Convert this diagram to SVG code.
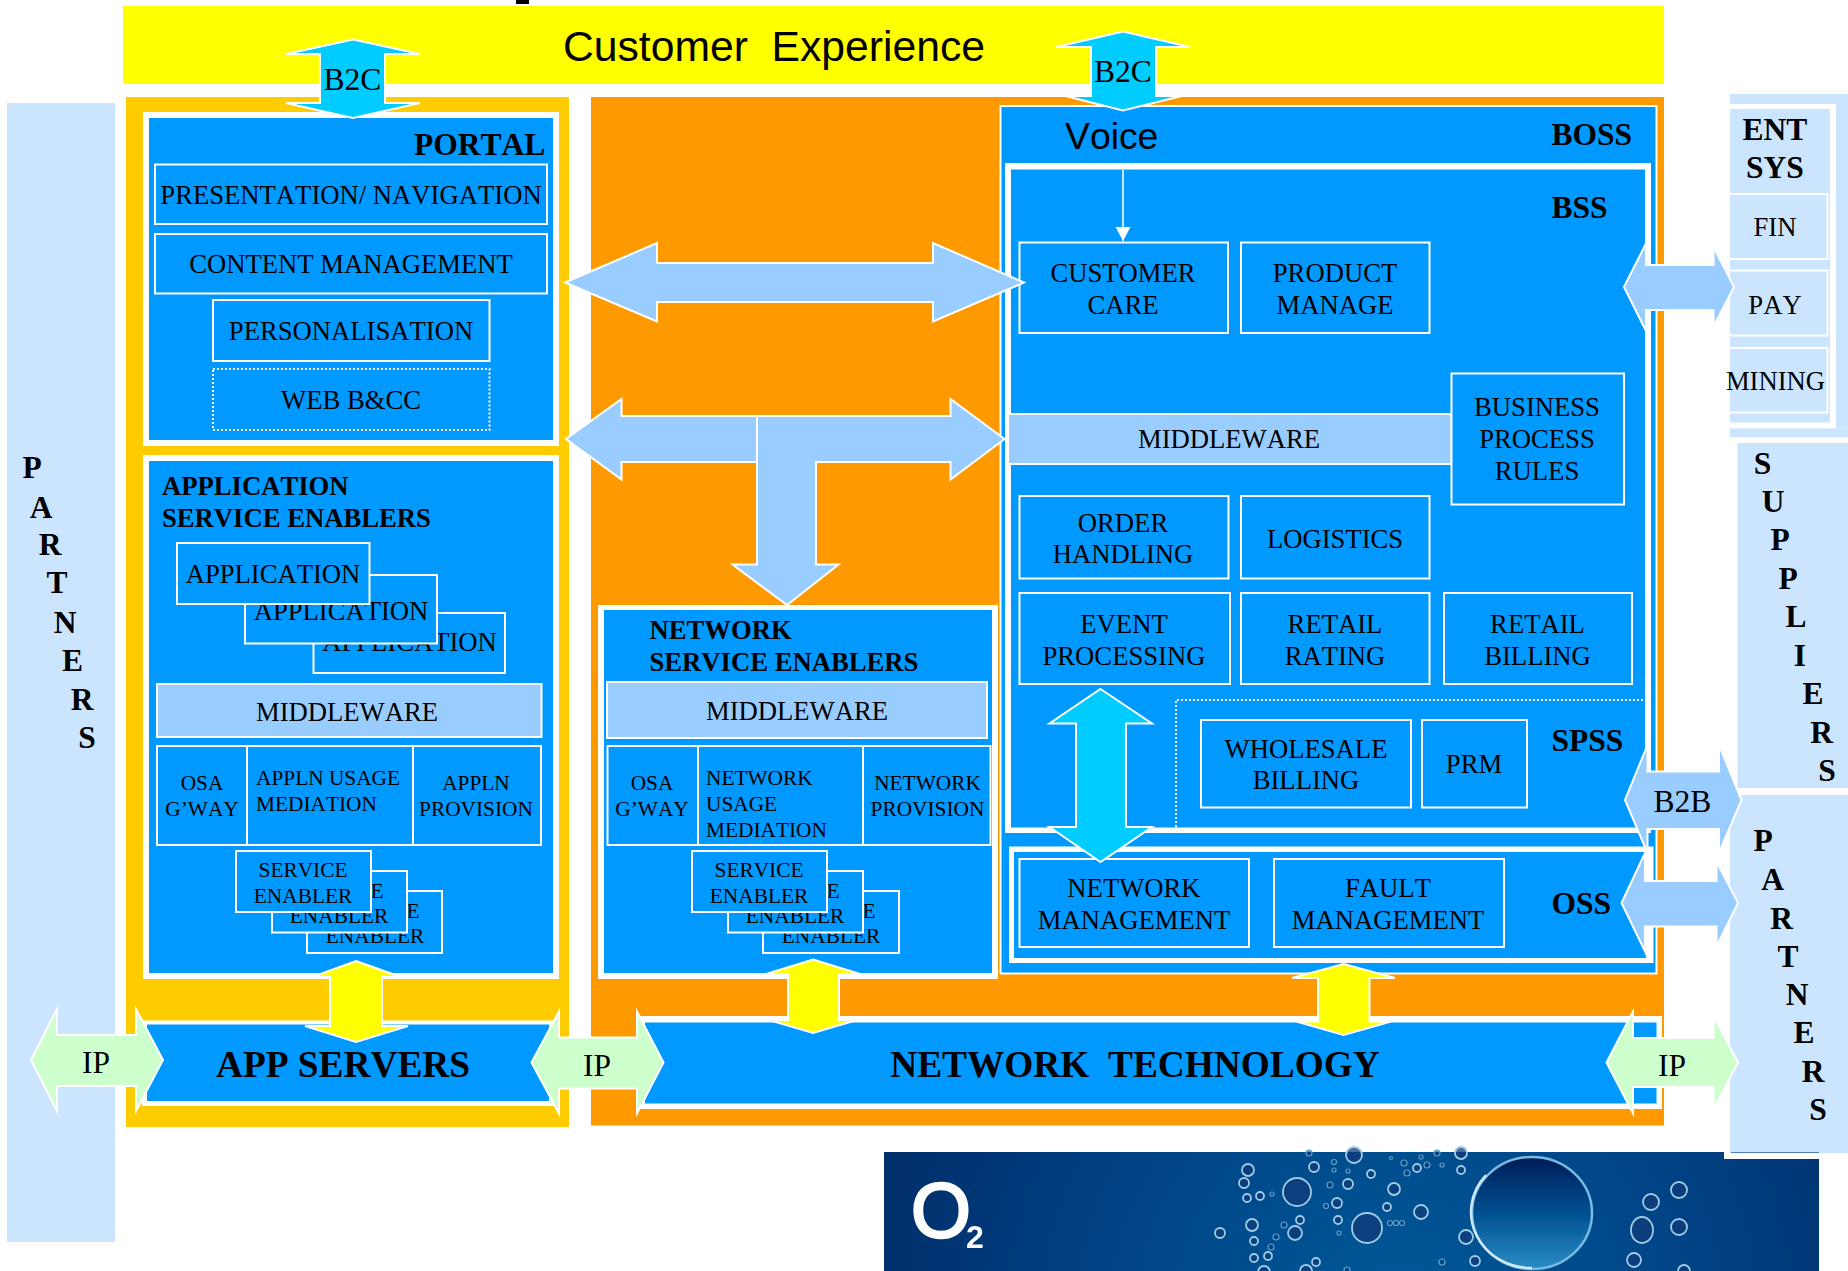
<svg xmlns="http://www.w3.org/2000/svg" width="1848" height="1271" viewBox="0 0 1848 1271">
<style>
text{font-family:"Liberation Serif","Times New Roman",serif;fill:#000;white-space:pre;font-kerning:none}
.m{font-size:26.67px;text-anchor:middle}
.l{font-size:26.67px}
.s{font-size:21.33px;text-anchor:middle}
.sl{font-size:21.33px}
.b{font-size:26.67px;font-weight:bold}
.h{font-size:31.5px;font-weight:bold}
.c{font-size:31.5px;font-weight:bold;text-anchor:middle}
.x{font-size:37.33px;font-weight:bold;text-anchor:middle}
.a{font-size:31.5px;text-anchor:middle}
.san{font-family:"Liberation Sans",Arial,sans-serif}
.box{fill:#0099FF;stroke:#fff;stroke-width:2}
.w{fill:#fff}
.blue{fill:#0099FF}
.mw{fill:#99CCFF;stroke:#fff;stroke-width:2}
.pale{fill:#CCE5FF}
.palebox{fill:#CCE5FF;stroke:#fff;stroke-width:2}
.arB,.arC,.arY,.arG{stroke:#fff;stroke-width:2}
.arB,.arG{stroke-miterlimit:20}
.arB{fill:#99CCFF}
.arC{fill:#00CCFF}
.arY{fill:#FFFF00}
.arG{fill:#CCFFCC}
.bub{fill:#0b3a78;fill-opacity:.75;stroke:#9fcbe4;stroke-width:1.800}
.dot{fill:#0b3a78;fill-opacity:.5;stroke:#5f9fc8;stroke-width:1.200}
</style>
<defs>
<radialGradient id="o2bg" gradientUnits="userSpaceOnUse" cx="1400" cy="1320" r="520"><stop offset="0" stop-color="#005A9A"/><stop offset=".55" stop-color="#004486"/><stop offset="1" stop-color="#002F6C"/></radialGradient>
<linearGradient id="big" x1="0" y1="0" x2="0" y2="1"><stop offset="0" stop-color="#001C58"/><stop offset=".5" stop-color="#005092"/><stop offset="1" stop-color="#2A8CC4"/></linearGradient>
<filter id="soft" x="-5%" y="-5%" width="110%" height="110%"><feGaussianBlur stdDeviation=".6"/></filter>
<marker id="tip" markerUnits="userSpaceOnUse" markerWidth="15" markerHeight="16" refX="14" refY="7.500" orient="auto"><path d="M0 0L14 7.500L0 15Z" fill="#fff"/></marker>
</defs>

<g id="o2-banner">
<rect x="884" y="1152" width="935" height="119" fill="url(#o2bg)"/>
<g filter="url(#soft)">
<text x="911" y="1237" class="san" style="font-size:77px;fill:#fff;stroke:#fff;stroke-width:2.500">O</text>
<text x="966" y="1248" class="san" style="font-size:32px;font-weight:bold;fill:#fff">2</text>
<ellipse cx="1532" cy="1213" rx="60" ry="56" fill="url(#big)" stroke="#79BBE0" stroke-width="2.500"/>
<path d="M1486 1175A60 56 0 0 0 1532 1268" fill="none" stroke="#CFE8F5" stroke-width="2.500"/>
<ellipse cx="1297" cy="1192" rx="14" ry="14" class="bub"/><ellipse cx="1367" cy="1228" rx="15" ry="15" class="bub"/><circle cx="1354" cy="1155" r="8" class="bub"/>
<circle cx="1248" cy="1170" r="6" class="bub"/><circle cx="1244" cy="1183" r="5" class="bub"/><circle cx="1247" cy="1198" r="4" class="bub"/><circle cx="1260" cy="1196" r="4" class="bub"/>
<circle cx="1272" cy="1194" r="2" class="dot"/><circle cx="1314" cy="1167" r="5" class="bub"/><circle cx="1334" cy="1162" r="2.500" class="dot"/><circle cx="1334" cy="1170" r="2" class="dot"/>
<circle cx="1348" cy="1171" r="2" class="dot"/><circle cx="1348" cy="1184" r="5" class="bub"/><circle cx="1330" cy="1185" r="3" class="dot"/><circle cx="1337" cy="1203" r="5" class="bub"/>
<circle cx="1326" cy="1206" r="2.500" class="dot"/><circle cx="1338" cy="1220" r="4" class="bub"/><circle cx="1339" cy="1233" r="2" class="dot"/><circle cx="1309" cy="1153" r="3" class="dot"/>
<circle cx="1252" cy="1225" r="6" class="bub"/><circle cx="1295" cy="1233" r="7" class="bub"/><circle cx="1300" cy="1220" r="4" class="bub"/><circle cx="1284" cy="1225" r="3" class="dot"/>
<circle cx="1276" cy="1237" r="3" class="dot"/><circle cx="1254" cy="1241" r="4" class="bub"/><circle cx="1271" cy="1247" r="3" class="dot"/><circle cx="1268" cy="1256" r="4" class="bub"/>
<circle cx="1254" cy="1258" r="4" class="bub"/><circle cx="1220" cy="1233" r="5" class="bub"/><circle cx="1316" cy="1262" r="4" class="bub"/><circle cx="1306" cy="1271" r="6" class="bub"/>
<circle cx="1264" cy="1272" r="6" class="bub"/><circle cx="1347" cy="1270" r="3" class="dot"/>
<circle cx="1371" cy="1174" r="4" class="bub"/><circle cx="1394" cy="1189" r="6" class="bub"/><circle cx="1387" cy="1207" r="4" class="bub"/><circle cx="1421" cy="1212" r="7" class="bub"/>
<circle cx="1390" cy="1223" r="2.500" class="dot"/><circle cx="1396" cy="1223" r="2.500" class="dot"/><circle cx="1402" cy="1223" r="2.500" class="dot"/>
<circle cx="1407" cy="1173" r="3" class="dot"/><circle cx="1404" cy="1163" r="3" class="dot"/><circle cx="1417" cy="1168" r="4" class="bub"/><circle cx="1427" cy="1165" r="3" class="dot"/>
<circle cx="1442" cy="1165" r="2" class="dot"/><circle cx="1461" cy="1170" r="4" class="bub"/><circle cx="1461" cy="1153" r="6" class="bub"/><circle cx="1437" cy="1153" r="3" class="dot"/>
<circle cx="1421" cy="1157" r="2" class="dot"/><circle cx="1391" cy="1158" r="1.500" class="dot"/><circle cx="1466" cy="1237" r="7" class="bub"/><circle cx="1442" cy="1262" r="3" class="dot"/>
<circle cx="1475" cy="1261" r="5" class="bub"/><circle cx="1651" cy="1202" r="8" class="bub"/><circle cx="1679" cy="1190" r="8" class="bub"/><circle cx="1679" cy="1227" r="8" class="bub"/>
<ellipse cx="1642" cy="1230" rx="11" ry="13" class="bub"/><circle cx="1634" cy="1260" r="7" class="bub"/><circle cx="1684" cy="1271" r="6" class="bub"/>
</g>
</g>

<g id="customer-experience">
<rect x="123" y="6" width="1541" height="78" fill="#FFFF00"/>
<text x="563" y="61" class="san" style="font-size:42.67px">Customer  Experience</text>
</g>
<rect x="516" y="0" width="13" height="4" fill="#000"/>

<g id="partners-left">
<rect x="7" y="103" width="108" height="1139" class="pale"/>
<text x="32" y="478" class="c">P</text><text x="41" y="518" class="c">A</text><text x="50" y="555" class="c">R</text><text x="57" y="593" class="c">T</text><text x="65" y="633" class="c">N</text><text x="72.500" y="671" class="c">E</text><text x="82" y="710" class="c">R</text><text x="87" y="748" class="c">S</text>
</g>

<rect x="126" y="97" width="443" height="1030" fill="#FFCC00"/>
<rect x="591" y="97" width="1073" height="1028.500" fill="#FF9900"/>

<g id="portal">
<rect x="143" y="112" width="416" height="334" class="w"/>
<rect x="149" y="118" width="404" height="322" class="blue"/>
<text x="414" y="155" class="h">PORTAL</text>
<rect x="155" y="164.500" width="392" height="59.500" class="box"/><text x="351" y="204" class="m">PRESENTATION/ NAVIGATION</text>
<rect x="155" y="234" width="392" height="59.500" class="box"/><text x="351" y="273" class="m">CONTENT MANAGEMENT</text>
<rect x="213" y="300" width="276.500" height="61" class="box"/><text x="351" y="340" class="m">PERSONALISATION</text>
<rect x="213" y="369" width="276.500" height="61" class="box" stroke-dasharray="2 2"/><text x="351" y="409" class="m">WEB B&amp;CC</text>
</g>

<g id="application-service-enablers">
<rect x="143" y="455" width="416" height="524" class="w"/>
<rect x="149" y="461" width="404" height="512" class="blue"/>
<text x="162" y="495" class="b">APPLICATION</text><text x="162" y="526.500" class="b">SERVICE ENABLERS</text>
<rect x="313.500" y="613" width="191.500" height="60" class="box"/><text x="409.500" y="651" class="m">APPLICATION</text>
<rect x="245" y="575" width="192" height="68.500" class="box"/><text x="341" y="620" class="m">APPLICATION</text>
<rect x="177" y="543" width="192.500" height="61" class="box"/><text x="273" y="583" class="m">APPLICATION</text>
<rect x="157" y="684" width="384.500" height="53" class="mw"/><text x="347" y="721" class="m">MIDDLEWARE</text>
<rect x="157" y="746" width="90" height="99" class="box"/><text x="202" y="790" class="s">OSA</text><text x="202" y="816" class="s">G’WAY</text>
<rect x="247" y="746" width="166" height="99" class="box"/><text x="256" y="785" class="sl">APPLN USAGE</text><text x="256" y="811" class="sl">MEDIATION</text>
<rect x="413" y="746" width="128" height="99" class="box"/><text x="476" y="790" class="s">APPLN</text><text x="476" y="816" class="s">PROVISION</text>
<rect x="307" y="891" width="135" height="62" class="box"/><text x="375" y="918" class="s">SERVICE</text><text x="375" y="943" class="s">ENABLER</text>
<rect x="272" y="871" width="135" height="61.500" class="box"/><text x="339" y="898" class="s">SERVICE</text><text x="339" y="923" class="s">ENABLER</text>
<rect x="236" y="851" width="135" height="61" class="box"/><text x="303" y="877" class="s">SERVICE</text><text x="303" y="903" class="s">ENABLER</text>
</g>

<g id="network-service-enablers">
<rect x="598" y="605" width="400" height="374" class="w"/>
<rect x="604" y="610" width="388" height="363" class="blue"/>
<text x="649.500" y="638.500" class="b">NETWORK</text><text x="649.500" y="671" class="b">SERVICE ENABLERS</text>
<rect x="607" y="682" width="380" height="56" class="mw"/><text x="797" y="720" class="m">MIDDLEWARE</text>
<rect x="607.500" y="746" width="90.500" height="99" class="box"/><text x="652" y="790" class="s">OSA</text><text x="652" y="816" class="s">G’WAY</text>
<rect x="698" y="746" width="165" height="99" class="box"/><text x="706" y="785" class="sl">NETWORK</text><text x="706" y="811" class="sl">USAGE</text><text x="706" y="836.500" class="sl">MEDIATION</text>
<rect x="863" y="746" width="127.500" height="99" class="box"/><text x="927.500" y="790" class="s">NETWORK</text><text x="927.500" y="816" class="s">PROVISION</text>
<rect x="763" y="891" width="136" height="62" class="box"/><text x="831" y="918" class="s">SERVICE</text><text x="831" y="943" class="s">ENABLER</text>
<rect x="728" y="871" width="135" height="61.500" class="box"/><text x="795" y="898" class="s">SERVICE</text><text x="795" y="923" class="s">ENABLER</text>
<rect x="692" y="851" width="135" height="61" class="box"/><text x="759" y="877" class="s">SERVICE</text><text x="759" y="903" class="s">ENABLER</text>
</g>

<g id="boss">
<rect x="1000.500" y="106" width="656" height="867.500" class="box"/>
<text x="1065" y="149" class="san" style="font-size:37.33px">Voice</text>
<text x="1551.500" y="145" class="h">BOSS</text>
</g>

<g id="bss">
<rect x="1005" y="163" width="646" height="670" class="w"/>
<rect x="1011" y="169.500" width="634" height="658" class="blue"/>
<text x="1551.500" y="217.500" class="h">BSS</text>
<rect x="1019.500" y="242.500" width="208.500" height="90.500" class="box"/><text x="1123" y="281.500" class="m">CUSTOMER</text><text x="1123" y="313.500" class="m">CARE</text>
<rect x="1241" y="242.500" width="188.500" height="90.500" class="box"/><text x="1335" y="281.500" class="m">PRODUCT</text><text x="1335" y="313.500" class="m">MANAGE</text>
<rect x="1008" y="414" width="443.500" height="50" class="mw"/><text x="1229" y="448" class="m">MIDDLEWARE</text>
<rect x="1451.500" y="373.500" width="172.500" height="131" class="box"/><text x="1537" y="416" class="m">BUSINESS</text><text x="1537" y="448" class="m">PROCESS</text><text x="1537" y="480" class="m">RULES</text>
<rect x="1019.500" y="496" width="209" height="82.500" class="box"/><text x="1123" y="531.500" class="m">ORDER</text><text x="1123" y="563" class="m">HANDLING</text>
<rect x="1241" y="496" width="188.500" height="82.500" class="box"/><text x="1335" y="547.500" class="m">LOGISTICS</text>
<rect x="1019.500" y="593" width="210.500" height="91" class="box"/><text x="1124" y="632.500" class="m">EVENT</text><text x="1124" y="664.500" class="m">PROCESSING</text>
<rect x="1241" y="593" width="188.500" height="91" class="box"/><text x="1335" y="632.500" class="m">RETAIL</text><text x="1335" y="664.500" class="m">RATING</text>
<rect x="1444" y="593" width="188" height="91" class="box"/><text x="1537.500" y="632.500" class="m">RETAIL</text><text x="1537.500" y="664.500" class="m">BILLING</text>
</g>

<g id="spss">
<path d="M1176 827V700H1645" fill="none" stroke="#fff" stroke-width="2" stroke-dasharray="2 2"/>
<rect x="1201" y="720" width="210" height="87.500" class="box"/><text x="1306" y="757.500" class="m">WHOLESALE</text><text x="1306" y="788.500" class="m">BILLING</text>
<rect x="1422" y="720" width="105" height="87.500" class="box"/><text x="1474" y="773" class="m">PRM</text>
<text x="1551.500" y="750.500" class="h">SPSS</text>
</g>

<g id="oss">
<rect x="1009" y="846.500" width="644.500" height="116.500" class="w"/>
<rect x="1014" y="852" width="632" height="106" class="blue"/>
<rect x="1019.500" y="859" width="229.500" height="88" class="box"/><text x="1134" y="897" class="m">NETWORK</text><text x="1134" y="929" class="m">MANAGEMENT</text>
<rect x="1274" y="859" width="230" height="88" class="box"/><text x="1388" y="897" class="m">FAULT</text><text x="1388" y="929" class="m">MANAGEMENT</text>
<text x="1551.500" y="914" class="h">OSS</text>
</g>

<g id="app-servers">
<rect x="142" y="1020.500" width="412" height="85.500" class="w"/>
<rect x="147" y="1024.500" width="402" height="76.500" class="blue"/>
<text x="343" y="1076.500" class="x">APP SERVERS</text>
</g>

<g id="network-technology">
<rect x="639.500" y="1016" width="1022.500" height="93" class="w"/>
<rect x="645" y="1022.500" width="1011.500" height="81" class="blue"/>
<text x="1135" y="1076.500" class="x">NETWORK  TECHNOLOGY</text>
</g>

<g id="ent-sys">
<rect x="1730" y="94" width="118" height="334.500" class="pale"/>
<rect x="1730" y="104" width="106" height="324.500" class="w"/>
<rect x="1730" y="109" width="100" height="313.500" class="pale"/>
<text x="1775" y="140" class="c">ENT</text><text x="1775" y="178" class="c">SYS</text>
<rect x="1729" y="194" width="98.500" height="65" class="palebox"/><text x="1775" y="236" class="m">FIN</text>
<rect x="1729" y="270.500" width="98.500" height="65" class="palebox"/><text x="1775" y="313.500" class="m">PAY</text>
<rect x="1729" y="348" width="98.500" height="64.500" class="palebox"/><text x="1775.500" y="390" class="m">MINING</text>
</g>

<g id="suppliers">
<rect x="1730" y="428.500" width="118" height="9" class="pale"/>
<rect x="1730.500" y="437.500" width="117.500" height="357" class="w"/>
<rect x="1737.500" y="443" width="110.500" height="345" class="pale"/>
<text x="1762.500" y="474" class="c">S</text><text x="1773" y="512" class="c">U</text><text x="1780" y="550" class="c">P</text><text x="1788" y="589" class="c">P</text><text x="1796" y="627" class="c">L</text><text x="1800" y="666" class="c">I</text><text x="1813" y="704" class="c">E</text><text x="1821.500" y="742.500" class="c">R</text><text x="1827" y="781" class="c">S</text>
</g>

<g id="partners-right">
<rect x="1724" y="1152" width="95" height="7" class="w"/>
<rect x="1730" y="795" width="118" height="358" class="pale"/>
<rect x="1731" y="1152" width="88" height="1" fill="#5080B0"/>
<text x="1763" y="851" class="c">P</text><text x="1772.500" y="889.500" class="c">A</text><text x="1781.500" y="928.500" class="c">R</text><text x="1788" y="966.500" class="c">T</text><text x="1797" y="1005" class="c">N</text><text x="1804" y="1043" class="c">E</text><text x="1813" y="1081.500" class="c">R</text><text x="1818" y="1119.500" class="c">S</text>
</g>

<g id="connectors">
<path class="arC" d="M353 39.500L420 54H385V103H420L353 118L286 103H320V54H286Z"/>
<path class="arC" d="M1123 31.500L1190 47H1156V96H1181.500L1123 110.500L1065.500 96H1091V47H1056Z"/>
<path class="arB" d="M565 282.500L657 243V263H933V243L1024 282.500L933 321.500V302H657V321.500Z"/>
<path class="arB" d="M566 439L621.500 399V416H950.500V399L1004.500 439L950.500 479.500V462H816V564.500H838.500L787 605L732.500 564.500H757V462H621.500V479.500Z"/>
<path d="M757 416V462" stroke="#fff" stroke-width="2" fill="none"/>
<path d="M1123 169.500V241" stroke="#fff" stroke-width="1.500" fill="none" marker-end="url(#tip)"/>
<path class="arC" d="M1100.500 689L1152 723.500H1126V827H1152L1100.500 862L1049.500 827H1076V723.500H1049.500Z"/>
<path class="arB" d="M1624 287L1646 243.500V265H1713.500V247L1734 287L1713.500 326.500V310H1646V331Z"/>
<path class="arB" d="M1621.500 903L1645 853V881H1716.500V861.500L1738 903L1716.500 946.500V926.500H1645V951.500Z"/>
<path class="arB" d="M1625 800L1647.500 745V771.500H1719V745L1741.500 800L1719 853V829H1647.500V853Z"/>
<path class="arY" d="M356 961L401 977H382V1026H408L356 1042L305 1026H330V977H312Z"/>
<path class="arY" d="M813 959.500L860 974H839V1020H857L813 1033L769 1020H788V974H766Z"/>
<path class="arY" d="M1343.500 964L1395 978H1369.500V1021.500H1391L1343.500 1035L1296.500 1021.500H1318V978H1292Z"/>
<path class="arG" d="M31 1060L57 1009V1035H136V1009L163 1060L136 1111V1086H57V1111Z"/>
<path class="arG" d="M531.500 1062.500L559 1011.500V1037.500H637V1011.500L663.500 1062.500L637 1113.500V1088.500H559V1113.500Z"/>
<path class="arG" d="M1606.500 1062.500L1633 1011.500V1038H1713.500V1016L1738 1062.500L1713.500 1109V1087H1633V1113.500Z"/>
<text x="352.500" y="90" class="a">B2C</text>
<text x="1123" y="81.500" class="a">B2C</text>
<text x="1682.500" y="811.500" class="a">B2B</text>
<text x="96" y="1073" class="a">IP</text>
<text x="597" y="1075.500" class="a">IP</text>
<text x="1672" y="1075.500" class="a">IP</text>
</g>
</svg>
